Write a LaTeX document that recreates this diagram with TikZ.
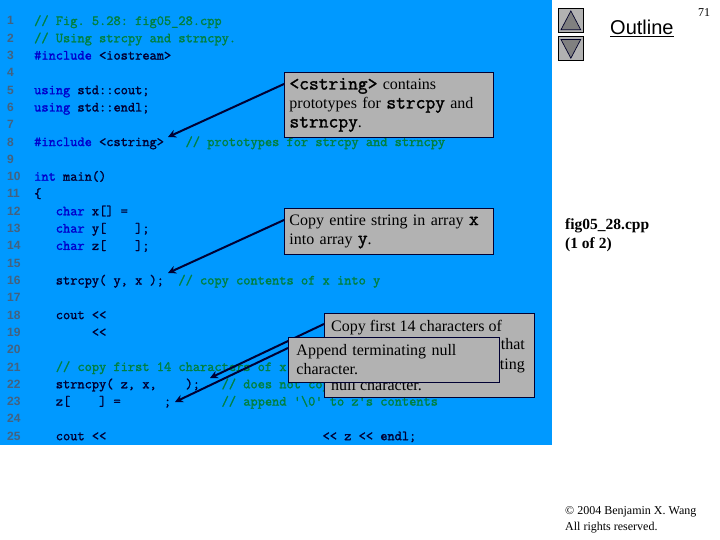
\documentclass[tikz,border=0pt]{standalone}
\usepackage{fontspec}
\setmainfont{Liberation Serif}
\newfontfamily\helv{Liberation Sans}
\newfontfamily\codefont{Latin Modern Mono}[FakeBold=1.6]
\definecolor{bgblue}{HTML}{0099FF}
\definecolor{ink}{HTML}{000033}
\definecolor{kw}{HTML}{0000CC}
\definecolor{cmt}{HTML}{008040}
\definecolor{lnumc}{HTML}{44627F}
\definecolor{boxgray}{HTML}{B2B2B2}
\newcommand\kw[1]{\textcolor{kw}{#1}}
\newcommand\cm[1]{\textcolor{cmt}{#1}}
\newcommand\mt[1]{{\codefont\fontsize{19}{19}\selectfont #1}}
\newcommand\codeline[2]{%
  \pgfmathsetmacro\ypos{25+17.3*(#1-1)}%
  \node[lnum] (n#1) at (7,\ypos) {#1};%
  \node[codetext] (c#1) at (34,\ypos) {#2};}
\newcommand\numline[1]{%
  \pgfmathsetmacro\ypos{25+17.3*(#1-1)}%
  \node[lnum] (n#1) at (7,\ypos) {#1};}
\usetikzlibrary{arrows.meta}
\tikzset{
  lnum/.style={anchor=base west,inner sep=0pt,text=lnumc,font=\helv\bfseries\fontsize{12}{14}\selectfont},
  codetext/.style={anchor=base west,inner sep=0pt,text=ink,font=\codefont\fontsize{14}{14}\selectfont},
  callout/.style={draw=ink,line width=0.9pt,fill=boxgray,anchor=north west,inner ysep=0pt,inner xsep=5pt,align=left,text=black,font=\fontsize{16}{19}\selectfont},
  boxtext/.style={anchor=base west,inner sep=0pt,text=black,font=\fontsize{16}{19}\selectfont},
  pointer/.style={draw=ink,line width=2pt,-{Stealth[length=8pt,width=8pt]}},
  navbtn/.style={draw=black,line width=0.7pt,fill=boxgray,anchor=north west,minimum width=25pt,minimum height=24pt,inner sep=0pt},
  navtri/.style={draw=ink!80!black,line width=0.7pt,fill=black!50},
  plain/.style={anchor=base west,inner sep=0pt,text=black},
}
\begin{document}
\begin{tikzpicture}[x=1pt,y=-1pt]
\useasboundingbox (0,0) rectangle (720,540);
\fill[bgblue] (0,0) rectangle (552,445);
\codeline{1}{\cm{//~Fig.~5.28:~fig05\_28.cpp}}
\codeline{2}{\cm{//~Using~strcpy~and~strncpy.}}
\codeline{3}{\kw{\#include}~<iostream>}
\numline{4}
\codeline{5}{\kw{using}~std::cout;}
\codeline{6}{\kw{using}~std::endl;}
\numline{7}
\codeline{8}{\kw{\#include}~<cstring>~~~\cm{//~prototypes~for~strcpy~and~strncpy}}
\numline{9}
\codeline{10}{\kw{int}~main()}
\codeline{11}{\{}
\codeline{12}{~~~\kw{char}~x[]~=}
\codeline{13}{~~~\kw{char}~y[~~~~];}
\codeline{14}{~~~\kw{char}~z[~~~~];}
\numline{15}
\codeline{16}{~~~strcpy(~y,~x~);~~\cm{//~copy~contents~of~x~into~y}}
\numline{17}
\codeline{18}{~~~cout~<<}
\codeline{19}{~~~~~~~~<<}
\numline{20}
\codeline{21}{~~~\cm{//~copy~first~14~characters~of~x}}
\codeline{22}{~~~strncpy(~z,~x,~~~~);~~~\cm{//~does~not~cop}}
\codeline{23}{~~~z[~~~~]~=~~~~~~;~~~~~~~\cm{//~append~'\textbackslash 0'~to~z's~contents}}
\numline{24}
\codeline{25}{~~~cout~<<~~~~~~~~~~~~~~~~~~~~~~~~~~~~~~<<~z~<<~endl;}
% anchors for the arrow tips
\coordinate (t1) at (168,137);
\coordinate (t2) at (168,273);
\coordinate (t3) at (210,378);
\coordinate (t4) at (175,402);
% callouts
\node[callout,minimum width=209pt,minimum height=65pt,text width=199pt] (b1) at (284,72)
  {\mt{<cstring>} contains\\prototypes for \mt{strcpy} and\\\mt{strncpy}.};
\node[callout,minimum width=209pt,minimum height=46pt,text width=199pt] (b2) at (284,208)
  {Copy entire string in array \mt{x}\\into array \mt{y}.};
\draw[pointer] ([yshift=-12pt]b1.north west) -- (t1);
\draw[pointer] ([yshift=-12pt]b2.north west) -- (t2);
\node[callout,minimum width=210pt,minimum height=84pt] (b3) at (324,313) {};
\draw[pointer] ([yshift=-11pt]b3.north west) -- (t3);
\node[boxtext] (b3a) at (331,331) {Copy first 14 characters of};
\node[boxtext,anchor=base east] (b3b) at (525,349) {that};
\node[boxtext,anchor=base east] (b3c) at (525,369) {ating};
\node[boxtext] (b3d) at (331,390) {null character.};
\node[callout,minimum width=211pt,minimum height=45pt,text width=195pt,inner xsep=8pt] (b4) at (288,337)
  {Append terminating null\\character.};
\draw[pointer] ([yshift=-11pt]b4.north west) -- (t4);
% navigation
\node[navbtn] (up) at (558,8) {};
\node[navbtn] (down) at (558,36.5) {};
\draw[navtri] ([xshift=3pt,yshift=3pt]up.south west) -- ([xshift=-3pt,yshift=3pt]up.south east) -- ([yshift=-3pt]up.north) -- cycle;
\draw[navtri] ([xshift=3pt,yshift=-3pt]down.north west) -- ([xshift=-3pt,yshift=-3pt]down.north east) -- ([yshift=3pt]down.south) -- cycle;
\node[plain,font=\helv\fontsize{20}{22}\selectfont] (outline) at (610,35) {\underline{Outline}};
\node[plain,font=\fontsize{12}{14}\selectfont] (page) at (698,17) {71};
\node[plain,font=\bfseries\fontsize{15.5}{19}\selectfont,align=left,anchor=north west] (fname) at (565,218) {fig05\_28.cpp\\(1 of 2)};
\node[plain,font=\fontsize{12}{16}\selectfont,align=left,anchor=north west] (copy) at (565,506) {© 2004 Benjamin X. Wang\\All rights reserved.};
\end{tikzpicture}
\end{document}
